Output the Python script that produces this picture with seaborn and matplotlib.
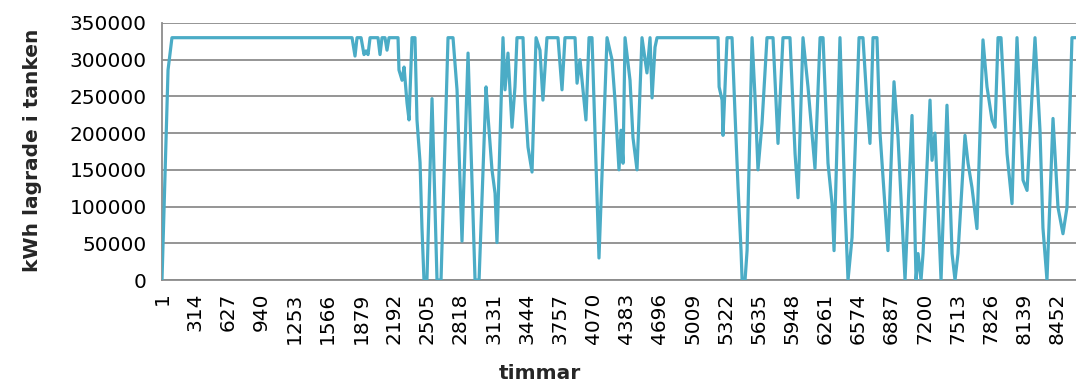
import matplotlib
matplotlib.use("Agg")
import matplotlib.pyplot as plt
import seaborn as sns
import pandas as pd

# Hour of the year (timmar) and stored energy (kWh)
hours = [1, 58, 95, 1757, 1795, 1823, 1842, 1880, 1908, 1927, 1946, 1965, 2040, 2059,
         2078, 2106, 2125, 2144, 2229, 2238, 2267, 2286, 2314, 2333, 2361, 2389, 2408,
         2437, 2455, 2474, 2502, 2550, 2597, 2635, 2701, 2748, 2786, 2833, 2890, 2956,
         2994, 3060, 3079, 3116, 3145, 3163, 3220, 3239, 3267, 3305, 3333, 3352, 3409,
         3428, 3456, 3494, 3532, 3569, 3597, 3635, 3739, 3777, 3805, 3900, 3919, 3947,
         4003, 4032, 4060, 4126, 4202, 4249, 4277, 4315, 4334, 4353, 4372, 4419, 4447,
         4485, 4532, 4579, 4608, 4627, 4655, 4674, 5250, 5260, 5288, 5297, 5335, 5382,
         5410, 5439, 5467, 5477, 5505, 5524, 5571, 5599, 5627, 5665, 5712, 5769, 5816,
         5863, 5929, 5977, 6005, 6052, 6099, 6165, 6213, 6241, 6288, 6326, 6345, 6401,
         6449, 6477, 6515, 6581, 6618, 6656, 6684, 6713, 6750, 6779, 6826, 6854, 6911,
         6949, 6987, 7015, 7081, 7100, 7119, 7138, 7166, 7185, 7251, 7270, 7298, 7355,
         7411, 7459, 7487, 7515, 7581, 7610, 7647, 7694, 7751, 7789, 7836, 7865, 7893,
         7921, 7978, 8025, 8072, 8129, 8167, 8242, 8289, 8317, 8355, 8412, 8459, 8506,
         8544, 8591, 8760]
stored_kwh = [0, 286000, 330000, 330000, 330000, 305000, 330000, 330000, 307000, 312000,
              307000, 330000, 330000, 307000, 330000, 330000, 313000, 330000, 330000,
              286000, 272000, 290000, 241000, 218000, 330000, 330000, 218000, 160000,
              71000, 0, 0, 247000, 0, 0, 330000, 330000, 259000, 53000, 309000, 0, 0,
              263000, 222000, 150000, 118000, 51000, 330000, 259000, 309000, 208000,
              263000, 330000, 330000, 245000, 181000, 147000, 330000, 313000, 245000,
              330000, 330000, 259000, 330000, 330000, 268000, 300000, 218000, 330000,
              330000, 30000, 330000, 300000, 245000, 150000, 204000, 159000, 330000,
              272000, 194000, 150000, 330000, 282000, 330000, 248000, 317000, 330000,
              330000, 263000, 245000, 197000, 330000, 330000, 227000, 126000, 40000, 0,
              0, 40000, 330000, 249000, 150000, 213000, 330000, 330000, 186000, 330000,
              330000, 172000, 112000, 330000, 263000, 152000, 330000, 330000, 159000,
              104000, 40000, 330000, 99000, 0, 58000, 330000, 330000, 241000, 186000,
              330000, 330000, 200000, 99000, 40000, 270000, 194000, 81000, 0, 224000,
              118000, 0, 36000, 0, 36000, 245000, 163000, 200000, 0, 238000, 36000, 0,
              36000, 197000, 159000, 126000, 70000, 327000, 263000, 218000, 208000,
              330000, 330000, 172000, 104000, 330000, 136000, 122000, 330000, 204000,
              71000, 0, 220000, 99000, 63000, 99000, 330000, 330000]

x_ticks = list(range(1, 8453, 313))
y_ticks = [0, 50000, 100000, 150000, 200000, 250000, 300000, 350000]
x_label = "timmar"
y_label = "kWh lagrade i tanken"

df = pd.DataFrame({"timmar": hours, "kWh": stored_kwh})

sns.set_style("white")
plt.rcParams["font.family"] = ["DejaVu Sans"]

fig = plt.figure(figsize=(10.76, 3.85), dpi=100)
ax = fig.add_axes([162 / 1076, 1 - 280 / 385, 1 - 162 / 1076, (280 - 23) / 385])

sns.lineplot(data=df, x="timmar", y="kWh", ax=ax, color="#4BACC6",
             linewidth=2.3, estimator=None, sort=False, zorder=3)

grid_c = "#8C8C8C"
ax.set_xlim(1, 8629)
ax.set_ylim(0, 350000)
ax.set_yticks(y_ticks)
ax.set_yticklabels([str(v) for v in y_ticks])
ax.set_xticks(x_ticks)
ax.set_xticklabels([str(v) for v in x_ticks], rotation=90)
ax.grid(axis="y", color=grid_c, linewidth=1.3, zorder=0)
ax.grid(axis="x", visible=False)
for s in ["top", "right"]:
    ax.spines[s].set_visible(False)
for s in ["left", "bottom"]:
    ax.spines[s].set_color(grid_c)
    ax.spines[s].set_linewidth(1.3)
ax.tick_params(axis="both", which="major", direction="out", length=5,
               width=1.3, color=grid_c, labelsize=14.5, labelcolor="black")
ax.tick_params(axis="x", pad=4)
ax.tick_params(axis="y", pad=6)

ax.set_xlabel(x_label, fontsize=14.5, fontweight="bold")
ax.set_ylabel(y_label, fontsize=14.5, fontweight="bold")
ax.xaxis.set_label_coords((540 - 162) / (1076 - 162), (280 - 364) / 257)
ax.yaxis.set_label_coords((42 - 162) / (1076 - 162), (280 - 150) / 257)

fig.savefig("out.png", dpi=100)
